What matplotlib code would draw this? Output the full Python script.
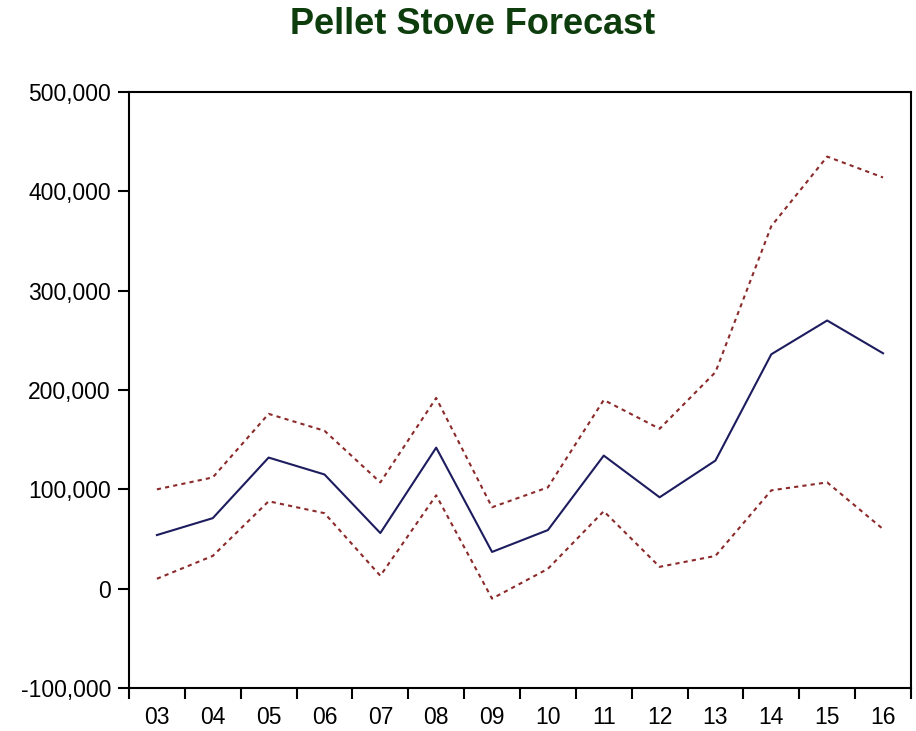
import matplotlib
matplotlib.use('Agg')
import matplotlib.pyplot as plt
from matplotlib.ticker import FixedLocator, FuncFormatter, NullFormatter

plt.rcParams['font.family'] = ['Liberation Sans', 'DejaVu Sans']

years = ['03', '04', '05', '06', '07', '08', '09', '10', '11', '12', '13', '14', '15', '16']
forecast = [54000, 71000, 132000, 115000, 56000, 142000, 37000, 59000,
            134000, 92000, 129000, 236000, 270000, 237000]
upper = [100000, 112000, 176000, 159000, 107000, 192000, 82000, 102000,
         190000, 161000, 218000, 365000, 435000, 414000]
lower = [10000, 33000, 88000, 76000, 13000, 94000, -10000, 20000,
         78000, 22000, 33000, 99000, 107000, 60000]

fig = plt.figure(figsize=(9.16, 7.31), dpi=100)
ax = fig.add_axes([0.1408, 0.0588, 0.8537, 0.8153])

x = list(range(len(years)))
ax.plot(x, upper, color='#8b2a2a', lw=1.5, linestyle=(0, (2, 2)))
ax.plot(x, lower, color='#8b2a2a', lw=1.5, linestyle=(0, (2, 2)))
ax.plot(x, forecast, color='#1c1c5e', lw=1.5)

ax.set_xlim(-0.5, len(years) - 0.5)
ax.set_ylim(-100000, 500000)
ax.set_yticks(range(-100000, 500001, 100000))
ax.yaxis.set_major_formatter(FuncFormatter(lambda v, p: f'{int(v):,}'))

# boundaries get the tick marks, year labels sit between them
ax.xaxis.set_major_locator(FixedLocator([i - 0.5 for i in range(len(years) + 1)]))
ax.xaxis.set_major_formatter(NullFormatter())
ax.xaxis.set_minor_locator(FixedLocator(x))
ax.set_xticklabels(years, minor=True)

ax.tick_params(axis='both', which='major', direction='out', length=8, width=1.5,
               labelsize=16.5, colors='black')
ax.tick_params(axis='y', pad=5)
ax.tick_params(axis='x', which='minor', length=0, labelsize=16.5, pad=13)
for s in ax.spines.values():
    s.set_linewidth(1.5)

fig.text(473 / 916, 1 - 24 / 731, 'Pellet Stove Forecast', ha='center', va='center',
         fontsize=26, fontweight='bold', color='#0d3d0d')

fig.savefig('out.png', dpi=100)
